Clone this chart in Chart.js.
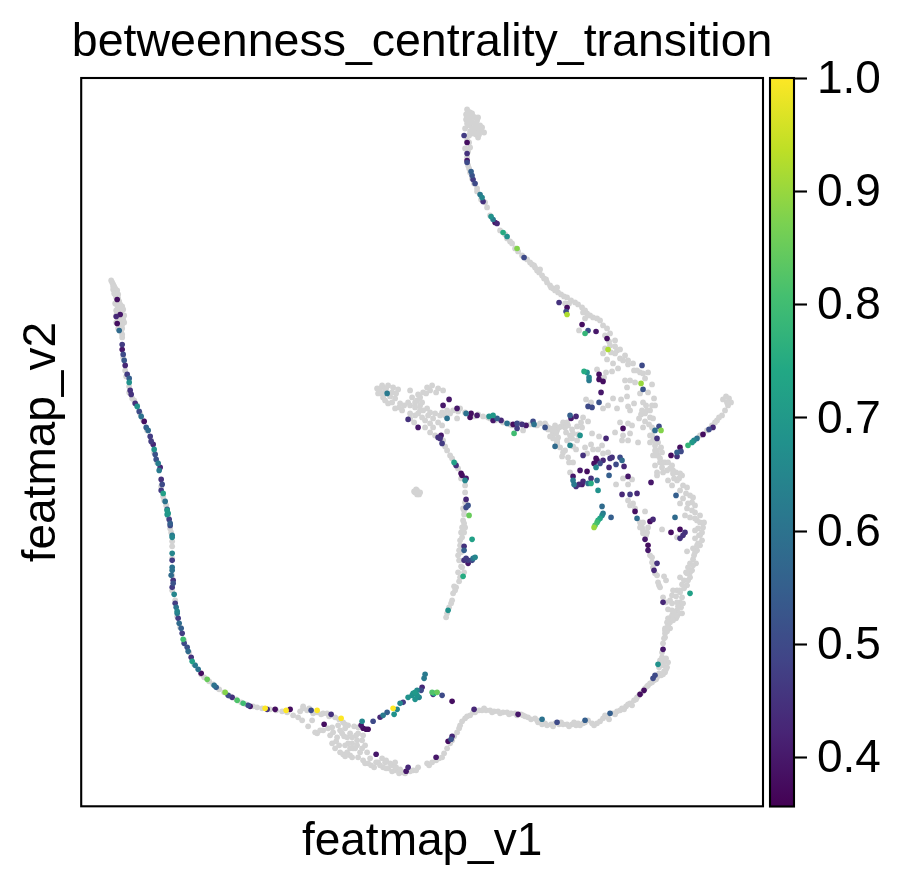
<!DOCTYPE html>
<html>
<head>
<meta charset="utf-8">
<title>betweenness_centrality_transition</title>
<script src="https://cdn.jsdelivr.net/npm/chart.js@4"></script>
<style>
    body { margin: 0; background: #fff; }
    canvas { position: absolute; top: 0; }
    #embedding { left: 0; }
    #colorbar { left: 760px; }
</style>
</head>
<body>
<canvas id="embedding" width="906" height="888"></canvas>
<canvas id="colorbar" width="146" height="888"></canvas>
<script>
const CHART_TITLE = "betweenness_centrality_transition";
const X_LABEL = "featmap_v1";
const Y_LABEL = "featmap_v2";
const X_RANGE = [0, 682];
const Y_RANGE = [0, 728.5];
const V_RANGE = [0.357, 1.0];
const CBAR_TICKS = [0.4, 0.5, 0.6, 0.7, 0.8, 0.9, 1.0];
const VIRIDIS = ["#440154", "#482475", "#414487", "#355f8d", "#2a788e", "#21918c", "#22a884", "#44bf70", "#7ad151", "#bddf26", "#fde725"];

// cells without a value, [v1, v2]
const greyLeftBranch = [[30,526],[31,524],[32,522],[33,520],[34,518],[34,515],[35,513],[36,516],[37,512],[32,517],[33,513],[35,509],[37,508],[38,505],[34,503],[36,501],[39,502],[41,500],[37,498],[40,496],[42,497],[43,491],[40,493],[35,491],[42,487],[35,484],[39,484],[43,484],[38,480],[41,478],[40,475],[41,472],[41,469],[42,449],[44,436],[45,430],[48,420],[48,414],[51,408],[53,406],[56,401],[59,393],[62,386],[66,376],[70,366],[73,354],[76,344],[80,320],[82,310],[83,306],[85,301],[87,290],[89,278],[90,274],[91,265],[91,260],[91,248],[91,231],[91,216],[94,206],[96,190],[99,179],[103,166],[108,154],[113,142],[120,132],[123,129],[128,125],[132,122],[138,117],[143,114],[149,110],[155,107],[160,104],[165,102],[32,520],[34,512],[36,506],[38,500],[35,496],[38,494],[41,490],[37,487],[41,482],[37,478]];
const greyBottomLobe = [[172,100],[176,99],[181,98],[189,97],[195,96],[201,95],[206,94],[212,91],[217,89],[221,86],[222,98],[219,95],[226,96],[242,93],[232,93],[246,93],[254,89],[262,84],[267,81],[273,80],[277,79],[231,86],[227,80],[242,76],[239,76],[236,73],[234,74],[251,79],[252,74],[259,76],[261,73],[266,69],[256,69],[251,63],[254,58],[258,61],[262,52],[269,51],[272,58],[277,49],[282,46],[287,43],[293,39],[301,48],[304,44],[309,43],[314,36],[318,33],[332,36],[337,39],[346,43],[351,44],[361,49],[276,66],[281,66],[276,61],[274,58],[281,58],[286,54],[282,71],[271,63],[267,63],[266,54],[259,54],[302,39],[307,38],[311,35],[322,34],[329,35],[366,58],[369,63],[263,70],[255,65],[264,50],[271,49],[284,43],[290,41],[297,44],[305,38],[315,39],[319,37],[324,33],[335,36],[348,41],[355,46],[358,48],[363,53],[247,78],[249,71],[257,81],[264,78],[269,73],[275,71],[271,69],[277,73],[269,58],[279,54],[264,61],[284,61],[289,48],[295,44],[299,41],[305,46],[311,41],[314,44],[222,100],[228,98],[236,94],[240,92],[248,90],[258,87],[264,82]];
const greyBottomCurve = [[371,66],[373,70],[376,74],[378,78],[379,81],[381,85],[384,88],[386,90],[389,91],[392,94],[394,94],[398,96],[401,96],[405,96],[409,96],[413,95],[417,95],[422,94],[426,94],[430,93],[434,93],[440,92],[444,90],[447,89],[454,88],[456,86],[457,84],[461,82],[466,81],[470,82],[474,83],[478,82],[482,82],[486,82],[491,82],[495,81],[499,81],[502,83],[504,84],[511,83],[516,83],[519,85],[522,88],[526,90],[532,93],[536,95],[541,98],[545,100],[549,103],[553,106],[556,109],[560,113],[564,118],[567,121],[569,123],[573,126],[576,129],[580,131],[584,134],[586,139],[579,146],[587,144],[581,149],[582,141],[583,135],[581,154],[582,163],[583,168],[584,173],[584,178],[586,184],[588,188],[591,191],[596,196],[601,193],[594,194],[591,203],[599,204],[587,197],[403,98],[411,94],[419,93],[428,92],[436,91],[442,91],[450,87],[459,85],[464,83],[472,80],[480,84],[488,80],[493,84],[497,83],[507,86],[513,81],[524,91],[528,87],[534,92],[539,96],[543,97],[547,102],[551,101],[555,107],[558,111],[562,115],[566,120],[571,124],[575,127],[578,133],[582,132],[585,137],[583,144],[580,143],[585,148],[578,139]];
const greyRightSide = [[576,334],[582,334],[592,333],[601,331],[587,326],[596,326],[606,319],[599,316],[591,321],[611,304],[602,308],[599,303],[606,298],[614,294],[604,291],[619,284],[617,278],[622,279],[614,268],[619,261],[616,256],[606,255],[612,247],[607,239],[611,236],[609,229],[599,229],[606,221],[596,216],[591,211],[601,209],[596,204],[591,196],[599,193],[587,188],[584,176],[584,169],[547,306],[552,303],[564,295],[561,279],[566,274],[562,273],[581,277],[571,249],[572,239],[576,231],[583,230],[585,226],[578,221],[582,209],[585,204],[535,322],[542,328],[547,322],[551,327],[596,269],[609,311],[614,301],[609,289],[616,286],[619,271],[617,263],[621,274],[614,254],[609,243],[615,243],[605,234],[603,226],[599,216],[592,216],[589,206],[600,199],[595,188],[587,181],[559,284],[562,284],[567,279],[554,298],[549,301],[595,334]];
const greyRightSideInner = [[589,184],[593,194],[597,200],[602,203],[595,210],[599,214],[603,218],[607,226],[601,222],[609,234],[612,241],[606,233],[613,251],[616,261],[612,258],[621,266],[618,271],[614,276],[623,284],[619,291],[614,288],[611,296],[607,303],[612,309],[605,313],[602,321],[598,328],[593,328],[589,338],[584,344],[579,344],[577,351],[574,356],[580,359],[572,366],[577,364],[569,371],[573,376],[568,382],[564,385],[569,396],[574,401],[565,401],[560,392],[564,428],[559,434],[553,436],[547,442],[542,446],[536,456],[530,454],[524,458],[528,465],[524,471],[559,279],[562,276],[565,271],[569,251],[571,244],[574,233],[577,224],[579,219],[596,190],[592,186],[589,178],[586,175]];
const greyRightArm = [[648,408],[642,407],[650,404],[647,401],[644,396],[641,391],[636,386],[631,381],[626,376],[619,371],[612,365],[645,410],[646,404],[638,389],[634,384]];
const greyUpperLobe = [[522,453],[529,461],[534,460],[539,457],[544,451],[534,453],[539,448],[526,447],[532,443],[537,438],[547,446],[552,443],[556,436],[562,433],[567,434],[549,426],[544,426],[554,424],[571,422],[546,419],[559,413],[567,414],[553,403],[562,404],[573,408],[571,401],[566,396],[561,396],[569,389],[564,393],[558,388],[572,388],[562,379],[571,379],[549,396],[536,398],[532,408],[540,407],[527,401],[546,410],[522,398],[547,400],[516,437],[525,434],[531,435],[523,429],[505,407],[510,404]];
const greyCentreCloud = [[464,383],[467,377],[474,381],[472,373],[477,369],[482,384],[486,384],[484,379],[491,377],[496,380],[502,389],[507,385],[501,379],[491,368],[479,359],[482,354],[487,349],[492,344],[489,334],[496,366],[504,359],[511,373],[518,370],[512,357],[517,357],[527,354],[522,353],[539,384],[547,383],[551,381],[534,374],[542,371],[549,373],[541,366],[547,366],[557,364],[574,361],[576,356],[572,351],[581,354],[574,341],[582,344],[587,344],[591,341],[581,339],[586,336],[592,336],[599,333],[576,331],[476,364],[485,374],[489,371],[484,356],[469,378],[571,371],[574,368],[569,364],[575,351],[579,348],[476,376],[480,380],[487,381],[492,373],[497,372],[500,384],[486,366],[492,360],[481,350],[488,344],[495,357],[506,353],[510,362],[521,361]];
const greyTopBranch = [[387,695],[385,692],[391,693],[394,689],[397,689],[389,686],[386,683],[393,683],[399,681],[403,674],[384,678],[391,678],[397,676],[392,673],[397,669],[386,666],[384,658],[389,659],[386,649],[387,641],[396,618],[406,599],[404,604],[409,591],[419,576],[426,568],[431,563],[434,558],[441,551],[446,547],[451,542],[456,536],[461,531],[466,524],[472,518],[477,514],[486,509],[494,504],[484,503],[501,499],[506,493],[512,489],[519,486],[526,478],[498,476],[504,488],[389,689],[395,681],[400,676],[388,671],[389,634],[393,623],[424,572],[429,565],[454,539],[458,534],[463,528],[469,521],[474,516],[480,512],[490,506],[504,496],[509,491],[516,488],[522,481],[529,473],[534,466],[386,697],[389,694],[387,690],[392,690],[396,686],[391,684],[388,681],[385,687],[394,679],[399,678],[393,676],[389,675],[395,672],[398,672],[401,679],[388,664],[387,655],[388,638],[391,628],[396,615],[400,607],[437,555],[443,549],[449,544],[453,541],[459,537],[465,527],[470,519],[476,519],[483,510],[488,503],[497,502],[502,494],[507,491]];
const greyMiddleArm = [[296,418],[301,421],[307,421],[312,419],[317,417],[297,413],[302,409],[307,413],[314,408],[307,403],[314,398],[321,396],[329,416],[331,409],[337,412],[346,419],[351,421],[357,418],[362,416],[345,413],[327,404],[336,406],[341,404],[334,399],[339,396],[346,398],[329,393],[334,391],[341,389],[347,391],[354,393],[361,394],[366,396],[372,396],[376,388],[357,384],[333,384],[349,383],[344,379],[349,374],[354,371],[366,375],[366,356],[369,351],[371,348],[379,398],[384,394],[402,390],[407,389],[422,384],[439,383],[442,376],[459,383],[467,379],[472,374],[472,368],[476,363],[478,379],[304,416],[309,410],[319,403],[339,401],[352,388],[361,381],[362,366],[364,360],[374,343],[393,390],[414,386],[431,381],[449,382],[456,381],[299,418],[305,418],[300,413],[311,414],[315,413],[304,406],[311,404],[318,399],[323,401],[329,401],[334,404],[339,409],[342,414],[349,416],[355,414],[342,396],[349,394],[337,393],[329,388],[344,386],[352,379],[359,391],[364,391],[369,393],[377,395],[397,392],[409,388],[429,382],[465,381],[469,377],[473,378],[475,373],[469,370],[476,366]];
const greyStem = [[377,338],[380,328],[384,321],[384,314],[384,304],[383,296],[382,286],[381,279],[384,279],[381,269],[379,261],[378,256],[377,251],[382,246],[381,239],[377,234],[379,229],[375,219],[374,216],[372,213],[371,206],[368,199],[365,189],[366,193],[383,234],[380,254],[382,298],[383,292],[383,283],[380,274],[383,274],[379,266],[381,258],[378,246],[380,240],[378,225],[373,220],[370,203]];
const greyBlob = [[334,314],[336,316],[339,314],[336,312],[333,315],[335,317],[338,312]];

// cells with a value, [v1, v2, betweenness]
const cellsLeftBranch = [[36,507,.38],[39,492,.40],[35,490,.43],[36,483,.38],[38,476,.58],[41,462,.47],[41,457,.40],[42,452,.50],[43,446,.53],[44,441,.43],[46,432,.47],[48,428,.55],[48,424,.68],[49,416,.45],[50,412,.45],[54,403,.45],[56,400,.68],[58,395,.50],[60,390,.60],[63,385,.38],[65,379,.55],[67,376,.58],[69,370,.47],[70,365,.47],[72,362,.43],[73,357,.68],[74,352,.52],[75,347,.52],[77,343,.63],[79,339,.43],[78,336,.62],[80,327,.45],[81,322,.50],[80,316,.47],[82,313,.72],[84,305,.60],[86,297,.55],[87,293,.70],[88,287,.48],[86,296,.70],[86,292,.68],[89,283,.55],[89,281,.5],[91,271,.62],[91,269,.65],[91,253,.65],[91,246,.47],[91,239,.6],[91,236,.6],[90,231,.58],[92,226,.45],[92,223,.52],[91,219,.47],[93,212,.65],[94,203,.47],[95,199,.6],[96,195,.65],[96,193,.62],[97,188,.47],[98,183,.58],[100,178,.55],[101,173,.47],[102,167,.8],[103,163,.5],[106,159,.52],[107,155,.58],[110,149,.45],[111,145,.72],[114,141,.62],[117,137,.6],[120,133,.38],[126,127,.85],[133,121,.6],[135,119,.55],[144,114,.88],[147,111,.5],[151,109,.45],[156,106,.82],[162,103,.8],[167,101,.5],[169,100,.4],[184,98,1],[186,97,.45],[194,97,.38],[205,96,1],[209,97,.38],[230,96,.5],[236,96,1],[250,92,.45],[260,88,1],[243,82,.38]];
const cellsLoop = [[281,85,.65],[280,81,.4],[282,78,.38],[285,77,.38],[287,77,.38],[292,85,.5],[299,89,.43],[302,91,.62],[306,94,.55],[312,98,1],[313,92,.68],[316,97,.65],[319,103,.65],[322,104,.47],[327,109,.68],[332,113,.68],[334,114,.7],[336,111,.68],[334,107,.68],[338,109,.65],[331,111,.68],[336,116,.65],[341,119,.43],[340,116,.5],[343,128,.62],[344,132,.62],[351,114,.82],[353,113,.75],[356,114,.85],[352,112,.45],[361,111,.5],[295,52,.4],[355,49,.4],[327,39,.43],[325,35,.4],[367,65,.38],[370,67,.52],[371,70,.43],[371,105,.38]];
const cellsBottomCurve = [[393,97,.43],[437,92,.4],[461,87,.6],[476,84,.5],[504,86,.55],[529,93,.55],[559,112,.38],[563,116,.38],[572,128,.5],[574,131,.5],[577,142,.68],[582,157,.4],[582,204,.43]];
const cellsLowerRight = [[547,330,.4],[528,331,.55],[570,324,.4],[516,326,.6],[510,323,.75],[507,323,.6],[517,316,.68],[541,312,.43],[549,312,.47],[556,313,.43],[595,311,.55],[521,300,.58],[554,295,.38],[556,288,.58],[522,293,.62],[521,291,.65],[519,288,.72],[517,286,.75],[516,284,.8],[514,281,.82],[513,279,.9],[530,289,.55],[594,289,.58],[572,287,.43],[569,285,.38],[599,277,.38],[604,274,.45],[590,274,.38],[602,271,.45],[599,268,.45],[564,267,.4],[567,261,.38],[567,256,.4],[576,243,.45],[573,236,.43],[609,213,.72]];
const cellsCentreCluster = [[492,330,.4],[492,326,.62],[493,322,.62],[495,320,.45],[498,322,.43],[502,325,.43],[501,322,.4],[506,335,.38],[499,336,.4],[510,328,.45],[507,476,.5],[504,473,.78],[515,475,.4],[526,468,.38],[527,457,.92],[561,441,.5],[503,435,.75],[506,434,.68],[508,429,.65],[508,426,.62],[518,432,.38],[518,427,.38],[522,425,.38],[560,423,.9],[562,417,.52],[520,414,.4],[518,404,.52],[507,400,.5],[511,399,.5],[542,378,.38],[578,380,.5],[574,376,.58],[580,376,.88],[576,368,.45],[489,391,.55],[490,388,.4],[495,390,.43],[499,371,.68],[525,368,.43],[489,361,.65],[502,351,.45],[515,348,.38],[513,343,.38],[516,346,.38],[519,343,.5],[522,346,.43],[531,349,.45],[529,348,.45],[539,349,.5],[541,346,.58],[535,342,.5],[543,340,.43],[528,339,.43],[515,339,.65]];
const cellsRightArm = [[590,351,.38],[599,359,.38],[596,354,.55],[600,355,.5],[596,350,.45],[607,361,.78],[611,364,.7],[613,366,.65],[616,368,.6],[622,372,.38],[628,377,.5],[632,379,.43]];
const cellsTopBranch = [[383,671,.47],[386,664,.38],[386,653,.45],[386,646,.4],[386,644,.5],[390,635,.55],[391,631,.52],[392,627,.47],[394,623,.5],[399,612,.62],[401,609,.65],[402,605,.45],[410,590,.68],[412,587,.62],[414,584,.38],[416,583,.43],[422,574,.75],[426,570,.68],[436,558,.88],[443,549,.5],[478,504,.45],[486,499,.38],[485,495,.5],[486,492,.92],[501,482,.38]];
const cellsMiddleArm = [[306,413,.62],[368,407,.4],[362,401,.4],[376,398,.4],[327,387,.45],[337,379,.4],[366,388,.6],[385,393,.6],[390,393,.38],[389,389,.38],[396,391,.4],[408,390,.68],[412,391,.7],[416,388,.55],[412,386,.4],[420,386,.43],[426,383,.6],[432,382,.38],[436,383,.5],[441,382,.45],[445,381,.4],[436,378,.47],[433,373,.8],[452,385,.5],[453,382,.6],[464,379,.52],[474,360,.58]];
const cellsStem = [[360,371,.4],[357,369,.45],[359,368,.45],[361,363,.47],[373,344,.72],[375,341,.45],[380,333,.38],[381,331,.38],[385,328,.4],[384,326,.65],[385,307,.43],[387,301,.52],[385,299,.5],[388,291,.85],[391,267,.72],[383,260,.45],[383,256,.55],[385,248,.47],[387,246,.47],[391,246,.5],[392,248,.6],[394,249,.65],[383,246,.45],[387,243,.4],[382,230,.75],[367,196,.68]];

const FONT = "Arial, 'Liberation Sans', sans-serif";

function hexToRgb(hex) {
    return [1, 3, 5].map(i => parseInt(hex.slice(i, i + 2), 16));
}

function viridis(value) {
    const t = Math.min(1, Math.max(0, (value - V_RANGE[0]) / (V_RANGE[1] - V_RANGE[0])));
    const pos = t * (VIRIDIS.length - 1);
    const i = Math.min(VIRIDIS.length - 2, Math.floor(pos));
    const a = hexToRgb(VIRIDIS[i]);
    const b = hexToRgb(VIRIDIS[i + 1]);
    const mix = a.map((c, k) => Math.round(c + (b[k] - c) * (pos - i)));
    return `rgb(${mix.join(",")})`;
}

// black box around the plot area, used by both charts
const framePlugin = {
    id: "frame",
    afterDatasetsDraw(chart) {
        const { ctx, chartArea: a } = chart;
        ctx.save();
        ctx.strokeStyle = "#000";
        ctx.lineWidth = 2.1;
        ctx.strokeRect(a.left, a.top, a.right - a.left, a.bottom - a.top);
        ctx.restore();
    }
};

// the title is wider than the plot: widen its box both ways so it isn't squeezed
const wideTitlePlugin = {
    id: "wideTitle",
    afterLayout(chart) {
        chart.titleBlock.left -= 60;
        chart.titleBlock.right += 60;
    }
};

const greyPoints = [greyLeftBranch, greyBottomLobe, greyBottomCurve, greyRightSide, greyRightSideInner, greyRightArm, greyUpperLobe,
    greyCentreCloud, greyTopBranch, greyMiddleArm, greyStem, greyBlob].flat().map(p => ({ x: p[0], y: p[1] }));

// higher values are painted last so they stay on top
const valuePoints = [cellsLeftBranch, cellsLoop, cellsBottomCurve, cellsLowerRight, cellsCentreCluster, cellsRightArm,
    cellsTopBranch, cellsMiddleArm, cellsStem].flat().map(p => ({ x: p[0], y: p[1], v: p[2] })).sort((a, b) => a.v - b.v);

new Chart(document.getElementById("embedding"), {
    type: "scatter",
    data: {
        datasets: [
            {
                label: "cells",
                data: valuePoints,
                order: 0,
                pointRadius: 2.8,
                pointBorderWidth: 0,
                backgroundColor: ctx => viridis(ctx.raw ? ctx.raw.v : 0.5)
            },
            {
                label: "no value",
                data: greyPoints,
                order: 1,
                pointRadius: 2.9,
                pointBorderWidth: 0,
                backgroundColor: "#d3d3d3"
            }
        ]
    },
    options: {
        responsive: false,
        animation: false,
        devicePixelRatio: 1,
        layout: { padding: { left: 0, right: 143, top: 0, bottom: 18 } },
        plugins: {
            legend: { display: false },
            tooltip: { enabled: false },
            title: {
                display: true,
                text: CHART_TITLE,
                fullSize: false,
                color: "#000",
                font: { family: FONT, size: 46.5, weight: "normal", lineHeight: 1.2 },
                padding: { top: 15.4, bottom: 6.8 }
            }
        },
        scales: {
            x: {
                type: "linear",
                min: X_RANGE[0],
                max: X_RANGE[1],
                grid: { display: false },
                border: { display: false },
                ticks: { display: false },
                title: {
                    display: true,
                    text: X_LABEL,
                    color: "#000",
                    font: { family: FONT, size: 46, weight: "normal", lineHeight: 1.2 },
                    padding: { top: 0.5, bottom: 0 }
                }
            },
            y: {
                type: "linear",
                min: Y_RANGE[0],
                max: Y_RANGE[1],
                grid: { display: false },
                border: { display: false },
                ticks: { display: false },
                title: {
                    display: true,
                    text: Y_LABEL,
                    color: "#000",
                    font: { family: FONT, size: 46, weight: "normal", lineHeight: 1.2 },
                    padding: { top: 14.5, bottom: 3.5 }
                }
            }
        }
    },
    plugins: [framePlugin, wideTitlePlugin]
});

function colorbarFill(ctx) {
    const area = ctx.chart.chartArea;
    if (!area) return VIRIDIS[5];
    const gradient = ctx.chart.ctx.createLinearGradient(0, area.bottom, 0, area.top);
    VIRIDIS.forEach((c, i) => gradient.addColorStop(i / (VIRIDIS.length - 1), c));
    return gradient;
}

new Chart(document.getElementById("colorbar"), {
    type: "bar",
    data: {
        labels: [""],
        datasets: [{
            data: [V_RANGE],
            backgroundColor: colorbarFill,
            borderWidth: 0,
            barPercentage: 1,
            categoryPercentage: 1
        }]
    },
    options: {
        responsive: false,
        animation: false,
        devicePixelRatio: 1,
        layout: { padding: { left: 10, right: 0, top: 78, bottom: 81.5 } },
        plugins: { legend: { display: false }, tooltip: { enabled: false } },
        scales: {
            x: { display: false },
            y: {
                position: "right",
                min: V_RANGE[0],
                max: V_RANGE[1],
                afterBuildTicks: scale => { scale.ticks = CBAR_TICKS.map(value => ({ value })); },
                afterFit: scale => { scale.width = 112; },
                grid: { drawOnChartArea: false, tickLength: 13, tickWidth: 2.1, tickColor: "#000" },
                border: { display: false },
                ticks: {
                    color: "#000",
                    padding: 10,
                    labelOffset: 2,
                    autoSkip: false,
                    maxRotation: 0,
                    font: { family: FONT, size: 46 },
                    callback: value => value.toFixed(1)
                }
            }
        }
    },
    plugins: [framePlugin]
});
</script>
</body>
</html>
